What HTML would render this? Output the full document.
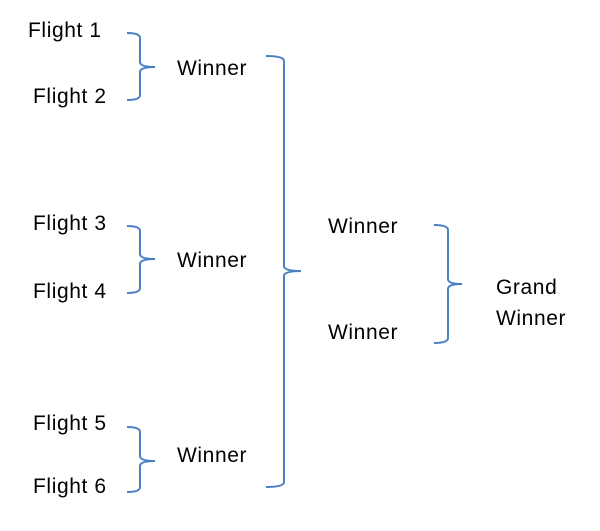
<!DOCTYPE html>
<html><head><style>
html,body{margin:0;padding:0;background:#fff;width:600px;height:531px;overflow:hidden}
svg text{font-family:"Liberation Sans",sans-serif;font-size:21px;letter-spacing:0.6px;fill:#000}
</style></head><body>
<svg width="600" height="531" xmlns="http://www.w3.org/2000/svg">
<g fill="none" stroke="#4a7fc4" stroke-width="2">
<path d="M127 33 Q140 33 140 38 V62 Q140 67 155 67 Q140 67 140 72 V95 Q140 100 127 100"/>
<path d="M127 226 Q140 226 140 231 V254 Q140 259 155 259 Q140 259 140 264 V288 Q140 293 127 293"/>
<path d="M127 427 Q140 427 140 432 V456 Q140 461 155 461 Q140 461 140 466 V487 Q140 492 127 492"/>
<path d="M266 56 Q284 56 284 61 V266 Q284 271 301 271 Q284 271 284 276 V482 Q284 487 266 487"/>
<path d="M434 225 Q448 225 448 230 V279 Q448 284 462 284 Q448 284 448 289 V338 Q448 343 434 343"/>
</g>
<text x="28" y="37">Flight 1</text>
<text x="33" y="103">Flight 2</text>
<text x="177" y="75">Winner</text>
<text x="33" y="230">Flight 3</text>
<text x="33" y="298">Flight 4</text>
<text x="177" y="267">Winner</text>
<text x="33" y="430">Flight 5</text>
<text x="33" y="493">Flight 6</text>
<text x="177" y="462">Winner</text>
<text x="328" y="233">Winner</text>
<text x="328" y="339">Winner</text>
<text x="496" y="294">Grand</text>
<text x="496" y="325">Winner</text>
</svg>
</body></html>
